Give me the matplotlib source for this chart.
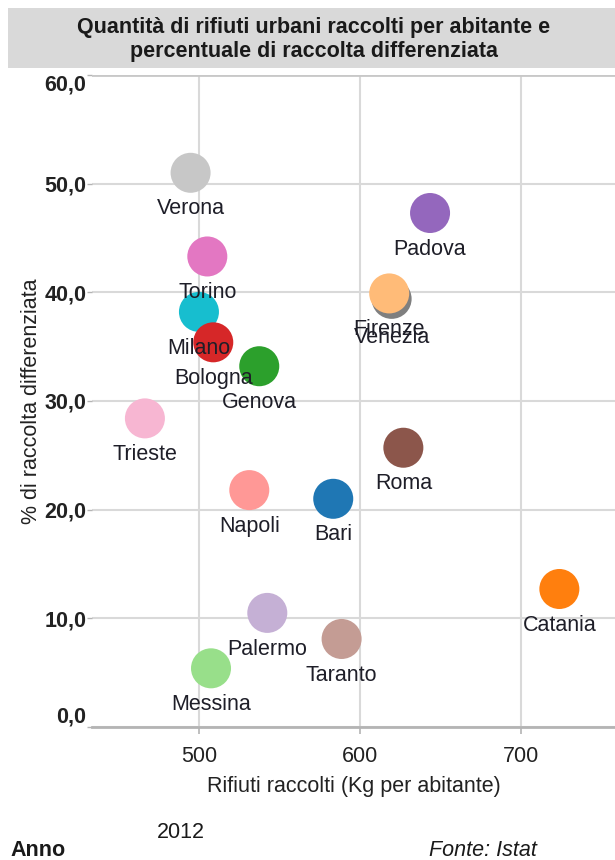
import matplotlib
matplotlib.use("Agg")
import matplotlib.pyplot as plt
from matplotlib.patches import Rectangle
from matplotlib.ticker import FuncFormatter

plt.rcParams['font.family'] = ['Liberation Sans', 'DejaVu Sans']

# Rifiuti urbani raccolti (kg per abitante) e % di raccolta differenziata, 2012
citta = ["Verona", "Padova", "Torino", "Venezia", "Firenze", "Milano", "Bologna",
         "Genova", "Trieste", "Roma", "Napoli", "Bari", "Catania", "Palermo",
         "Taranto", "Messina"]
rifiuti_kg = [494.8, 643.7, 505.2, 619.8, 618.3, 500.0, 508.9,
              537.5, 466.4, 627.1, 531.3, 583.5, 724.1, 542.5,
              588.7, 507.5]
differenziata_pct = [51.0, 47.3, 43.3, 39.4, 39.9, 38.2, 35.4,
                     33.2, 28.4, 25.7, 21.8, 21.0, 12.7, 10.5,
                     8.1, 5.4]
colori = ["#c7c7c7", "#9467bd", "#e377c2", "#7f7f7f", "#ffbb78", "#17becf", "#d62728",
          "#2ca02c", "#f7b6d2", "#8c564b", "#ff9896", "#1f77b4", "#ff7f0e", "#c5b0d5",
          "#c49c94", "#98df8a"]

x_ticks = [500, 600, 700]
y_ticks = [0, 10, 20, 30, 40, 50, 60]

W, H = 615, 860
fig = plt.figure(figsize=(W / 100, H / 100), dpi=100)

# header band with the title
fig.add_artist(Rectangle((8 / W, 1 - 68 / H), (W - 8) / W, 60 / H,
                         transform=fig.transFigure, facecolor="#d9d9d9",
                         edgecolor="none"))
fig.text(314 / W, 1 - 27 / H,
         "Quantità di rifiuti urbani raccolti per abitante e",
         ha="center", va="center", fontsize=15.5, fontweight="bold", color="#1a1a1a")
fig.text(314 / W, 1 - 51 / H,
         "percentuale di raccolta differenziata",
         ha="center", va="center", fontsize=15.5, fontweight="bold", color="#1a1a1a")

left, right, top, bottom = 92, 615, 75, 727
ax = fig.add_axes([left / W, 1 - bottom / H, (right - left) / W, (bottom - top) / H])
ax.set_xlim(433.5, 758.7)
ax.set_ylim(0, 60)

for s in ["left", "right", "top"]:
    ax.spines[s].set_visible(False)
ax.spines["bottom"].set_color("#b4b4b4")
ax.spines["bottom"].set_linewidth(2)

ax.set_xticks(x_ticks)
ax.set_yticks(y_ticks)
ax.grid(True, color="#d9d9d9", linewidth=1.5)
ax.set_axisbelow(True)
ax.axhline(60, color="#c8c8c8", linewidth=2, zorder=1)

ax.yaxis.set_major_formatter(FuncFormatter(lambda v, p: f"{v:.1f}".replace(".", ",")))
ax.tick_params(axis="y", length=3.5, width=1, color="#b4b4b4", pad=0.5,
               labelsize=15.5, labelcolor="#222222")
ax.tick_params(axis="x", length=5, width=1.2, color="#b4b4b4", pad=9,
               labelsize=15.5, labelcolor="#222222")
for lab in ax.get_yticklabels():
    lab.set_fontweight("bold")
ylabs = ax.get_yticklabels()
ylabs[0].set_verticalalignment("bottom")
ylabs[-1].set_verticalalignment("top")

ax.set_xlabel("Rifiuti raccolti (Kg per abitante)", fontsize=15.5, color="#222222",
              labelpad=6)
ax.set_ylabel("% di raccolta differenziata", fontsize=15.5, color="#222222",
              labelpad=2)

ax.scatter(rifiuti_kg, differenziata_pct, s=830, c=colori, edgecolors="none",
           zorder=3, clip_on=False)

for i, nome in enumerate(citta):
    dy = -26 if nome != "Venezia" else -28
    ax.annotate(nome, (rifiuti_kg[i], differenziata_pct[i]), xytext=(0, dy),
                textcoords="offset points", ha="center", va="center",
                fontsize=15.5, color="#1e1e28", zorder=5)

fig.text(10 / W, 1 - 850 / H, "Anno", ha="left", va="center",
         fontsize=15.5, fontweight="bold", color="#1a1a1a")
fig.text(181 / W, 1 - 833 / H, "2012", ha="center", va="center",
         fontsize=15.5, color="#1a1a1a")
fig.text(483 / W, 1 - 850 / H, "Fonte: Istat", ha="center", va="center",
         fontsize=15.5, fontstyle="italic", color="#1a1a1a")

fig.savefig("out.png", dpi=100)
